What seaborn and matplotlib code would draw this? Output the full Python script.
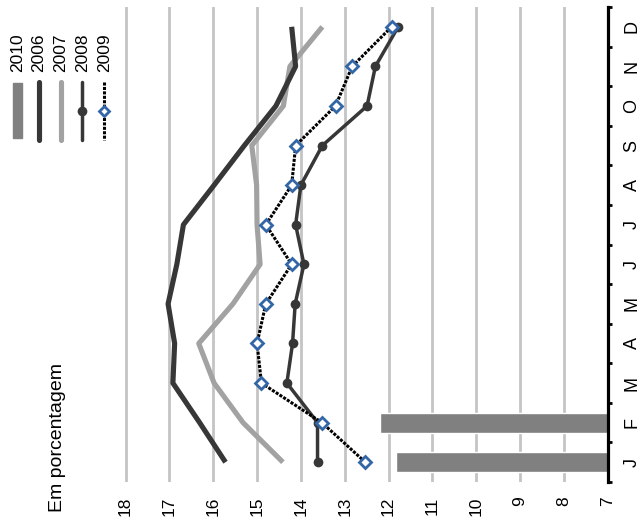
import numpy as np
import matplotlib
matplotlib.use("Agg")
import matplotlib.pyplot as plt
import seaborn as sns
from matplotlib.lines import Line2D
from matplotlib.patches import Rectangle

# ---- data ----
months = ["J", "F", "M", "A", "M", "J", "J", "A", "S", "O", "N", "D"]
value_ticks = [7, 8, 9, 10, 11, 12, 13, 14, 15, 16, 17, 18]
s2006 = [15.72, 16.31, 16.92, 16.88, 17.03, 16.83, 16.68, 15.98, 15.29, 14.57, 14.12, 14.21]
s2007 = [14.41, 15.32, 15.98, 16.33, 15.55, 14.93, 15.00, 15.01, 15.12, 14.40, 14.25, 13.51]
s2008 = [13.62, 13.62, 14.32, 14.19, 14.13, 13.93, 14.12, 14.00, 13.51, 12.49, 12.30, 11.78]
s2009 = [12.53, 13.52, 14.90, 15.00, 14.80, 14.21, 14.80, 14.21, 14.12, 13.21, 12.83, 11.93]
s2010 = [11.82, 12.20]
legend_labels = ["2010", "2006", "2007", "2008", "2009"]
unit_label = "Em porcentagem"

# ---- style ----
sns.set_theme(style="white")
plt.rcParams["font.family"] = ["Liberation Sans", "DejaVu Sans"]

DARK = "#373737"
LIGHT = "#a2a2a2"
BAR = "#808080"
GRID = "#c4c4c4"
BLUE = "#3366a6"
DOTS = (0, (1.0, 0.45))

W, H = 642, 517
fig = plt.figure(figsize=(W / 100, H / 100), dpi=100)


def fx(px):
    return px / W


def fy(py):
    return 1 - py / H


ax = fig.add_axes([fx(123.8), fy(482), (607.7 - 123.8) / W, (482 - 7) / H])

pos = np.arange(1, len(months) + 1)

ax.barh(pos[:len(s2010)], s2010, height=0.5, color=BAR, zorder=2)

sns.lineplot(x=s2007, y=pos, orient="y", estimator=None, sort=False, ax=ax,
             color=LIGHT, lw=3.7, solid_capstyle="butt", solid_joinstyle="round", zorder=3)
sns.lineplot(x=s2006, y=pos, orient="y", estimator=None, sort=False, ax=ax,
             color=DARK, lw=3.7, solid_capstyle="butt", solid_joinstyle="round", zorder=3)
sns.lineplot(x=s2008, y=pos, orient="y", estimator=None, sort=False, ax=ax,
             color=DARK, lw=2.5, marker="o", markersize=7, markerfacecolor=DARK,
             markeredgecolor=DARK, markeredgewidth=0, zorder=4)
sns.lineplot(x=s2009, y=pos, orient="y", estimator=None, sort=False, ax=ax,
             color="black", lw=2.2, linestyle=DOTS, marker="D", markersize=6.5,
             markerfacecolor="white", markeredgecolor=BLUE, markeredgewidth=2.0, zorder=5)

ax.set_xlim(18.04, 7)
ax.set_ylim(0.5, 12.5)

# value axis (bottom)
ax.set_xticks(value_ticks, labels=[str(v) for v in value_ticks])
ax.xaxis.grid(True, color=GRID, lw=2.0)
ax.yaxis.grid(False)
ax.set_axisbelow(True)
ax.tick_params(axis="x", which="both", bottom=True, length=0, pad=10.5,
               labelsize=12.5, labelrotation=90, colors="black")

# month axis (right)
ax.yaxis.tick_right()
ax.set_yticks(np.arange(0.5, len(months) + 1, 1))
ax.set_yticks(pos, labels=months, minor=True)
ax.tick_params(axis="y", which="major", right=True, left=False, direction="out",
               length=3, width=2, color="black", labelright=False, labelleft=False)
ax.tick_params(axis="y", which="minor", right=True, left=False, length=0,
               labelright=True, labelleft=False, labelsize=13, pad=17.5,
               labelrotation=90, colors="black")
for lab in ax.get_yticklabels(minor=True):
    lab.set_ha("center")
    lab.set_va("center")

for side in ["left", "top", "bottom"]:
    ax.spines[side].set_visible(False)
ax.spines["right"].set_visible(True)
ax.spines["right"].set_color("black")
ax.spines["right"].set_linewidth(2.3)
ax.set_xlabel("")
ax.set_ylabel("")

# unit label
fig.text(fx(57.5), fy(512), unit_label, rotation=90, ha="center", va="bottom",
         fontsize=14, color="black")

# legend (rotated, drawn manually)
leg_x = [17.5, 39, 61, 82.3, 104.3]
y0, y1, ym = 82, 140, 111
for lbl, x in zip(legend_labels, leg_x):
    fig.text(fx(x), fy(71.5), lbl, rotation=90, ha="center", va="bottom",
             fontsize=12.5, color="black")
fig.add_artist(Rectangle((fx(13.2), fy(138.3)), 8.8 / W, (138.3 - 82.7) / H,
                         transform=fig.transFigure, color=BAR))
fig.add_artist(Line2D([fx(leg_x[1])] * 2, [fy(y0), fy(y1)], transform=fig.transFigure,
                      color=DARK, lw=3.7, solid_capstyle="round"))
fig.add_artist(Line2D([fx(leg_x[2])] * 2, [fy(y0), fy(y1)], transform=fig.transFigure,
                      color=LIGHT, lw=3.7, solid_capstyle="round"))
fig.add_artist(Line2D([fx(leg_x[3])] * 2, [fy(y0), fy(y1)], transform=fig.transFigure,
                      color=DARK, lw=2.5))
fig.add_artist(Line2D([fx(leg_x[3])], [fy(ym)], transform=fig.transFigure,
                      color=DARK, marker="o", markersize=7, markeredgewidth=0))
fig.add_artist(Line2D([fx(leg_x[4])] * 2, [fy(y0), fy(y1)], transform=fig.transFigure,
                      color="black", lw=2.2, linestyle=DOTS))
fig.add_artist(Line2D([fx(leg_x[4])], [fy(ym)], transform=fig.transFigure,
                      marker="D", markersize=5, markerfacecolor="white",
                      markeredgecolor=BLUE, markeredgewidth=2.0))

fig.savefig("out.png", dpi=100, facecolor="white")
